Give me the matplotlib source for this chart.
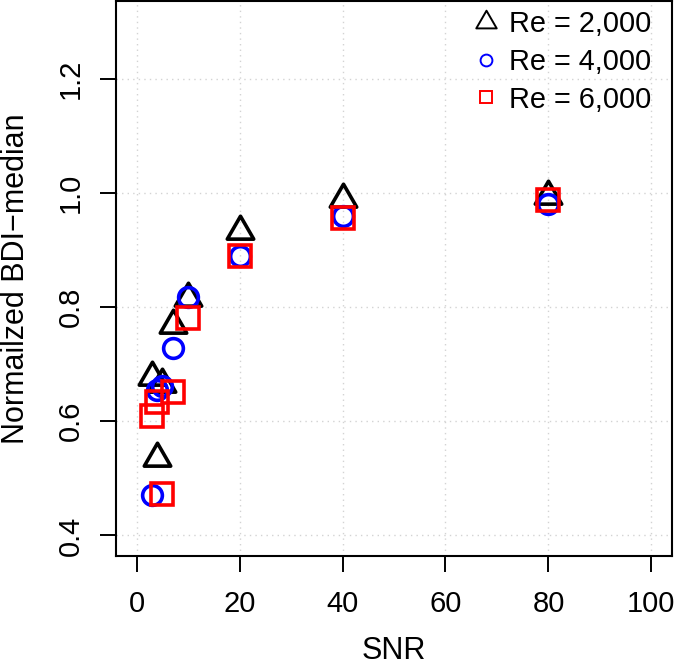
import matplotlib
matplotlib.use("Agg")
import matplotlib.pyplot as plt
from matplotlib.path import Path
from matplotlib.lines import Line2D
import numpy as np

plt.rcParams['font.family'] = ['Liberation Sans', 'DejaVu Sans']

snr = [3, 4, 5, 7, 10, 20, 40, 80]
bdi_re2000 = [0.678, 0.535, 0.666, 0.769, 0.816, 0.933, 0.990, 0.995]
bdi_re4000 = [0.470, 0.655, 0.661, 0.729, 0.817, 0.889, 0.959, 0.981]
bdi_re6000 = [0.610, 0.633, 0.473, 0.652, 0.781, 0.889, 0.956, 0.987]
labels = ["Re = 2,000", "Re = 4,000", "Re = 6,000"]
xticks = [0, 20, 40, 60, 80, 100]
yticks = [0.4, 0.6, 0.8, 1.0, 1.2]

tri = Path([(0, 1), (-0.866, -0.5), (0.866, -0.5), (0, 1)],
           [Path.MOVETO, Path.LINETO, Path.LINETO, Path.CLOSEPOLY])

W, H = 675, 668
fig = plt.figure(figsize=(W / 100, H / 100), dpi=100)
ax = fig.add_axes([116 / W, (H - 556) / H, 556 / W, 555 / H])
ax.set_xlim(-4, 104)
ax.set_ylim(0.364, 1.336)

for x in xticks:
    ax.axvline(x, color='lightgray', ls=(0, (1, 3)), lw=1.0, zorder=0)
for y in yticks:
    ax.axhline(y, color='lightgray', ls=(0, (1, 3)), lw=1.0, zorder=0)

mew = 2.6
ax.plot(snr, bdi_re2000, ls='none', marker=tri, ms=22, mfc='none', mec='black',
        mew=mew, zorder=3)
ax.plot(snr, bdi_re4000, ls='none', marker='o', ms=14.2, mfc='none', mec='#0000FF',
        mew=mew, zorder=3)
ax.plot(snr, bdi_re6000, ls='none', marker='s', ms=15.5, mfc='none', mec='#FF0000',
        mew=mew, zorder=3)

ax.set_xticks(xticks)
ax.set_xticklabels([str(v) for v in xticks])
ax.set_yticks(yticks)
ax.set_yticklabels([f"{v:.1f}" for v in yticks])
ax.tick_params(axis='both', direction='out', length=11.5, width=1.4,
               labelsize=21, color='black')
ax.tick_params(axis='x', pad=13)
ax.tick_params(axis='y', pad=11)
for lab in ax.get_yticklabels():
    lab.set_rotation(90)
    lab.set_va('center')

for sp in ax.spines.values():
    sp.set_linewidth(1.5)

ax.set_xlabel("SNR", fontsize=22, va='bottom')
ax.set_ylabel("Normailzed BDI\u2212median", fontsize=22)
ax.xaxis.set_label_coords(0.5, -0.199)
ax.yaxis.set_label_coords(-0.152, 0.5)

handles = [
    Line2D([], [], ls='none', marker=tri, ms=17, mfc='none', mec='black', mew=1.4),
    Line2D([], [], ls='none', marker='o', ms=8.5, mfc='none', mec='#0000FF', mew=1.4),
    Line2D([], [], ls='none', marker='s', ms=8.5, mfc='none', mec='#FF0000', mew=1.4),
]
ax.legend(handles, labels, loc='upper right', bbox_to_anchor=(0.9635, 0.983),
          frameon=False, fontsize=20.8, borderpad=0, borderaxespad=0,
          handlelength=0.6, handletextpad=0.5, labelspacing=0.33)

fig.savefig("out.png", dpi=100)
